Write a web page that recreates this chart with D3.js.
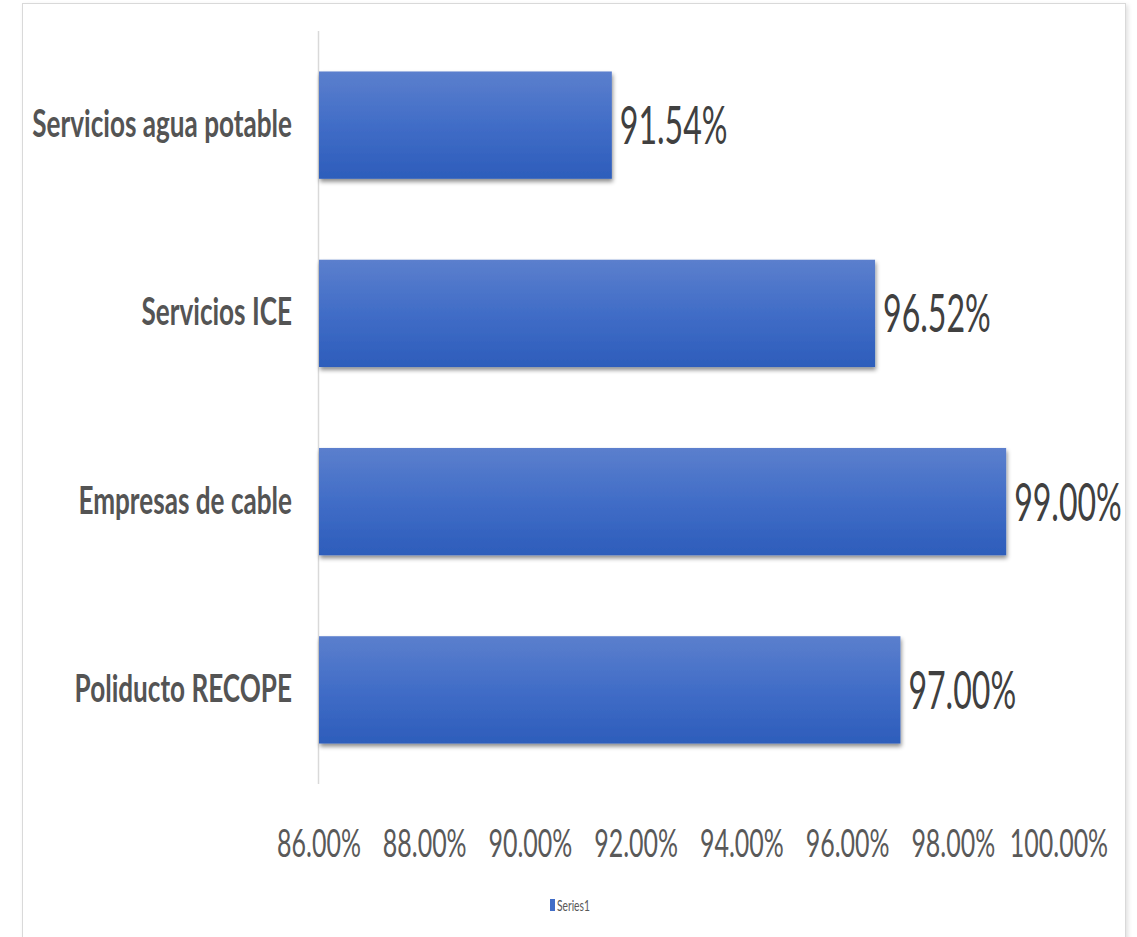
<!DOCTYPE html>
<html>
<head>
<meta charset="utf-8">
<script src="https://cdn.jsdelivr.net/npm/d3@7"></script>
<style>
  body { margin: 0; background: #fff; }
  text { font-family: Lato, "Open Sans", sans-serif; }
</style>
</head>
<body>
<div id="chart"></div>
<script>
var categories = ['Servicios agua potable', 'Servicios ICE', 'Empresas de cable', 'Poliducto RECOPE'];
var values = [91.54, 96.52, 99.00, 97.00];
var tickValues = [86, 88, 90, 92, 94, 96, 98, 100];
var seriesName = 'Series1';

var width = 1137, height = 937;

var svg = d3.select('#chart').append('svg')
  .attr('width', width)
  .attr('height', height);

var defs = svg.append('defs');
var grad = defs.append('linearGradient')
  .attr('id', 'barGrad')
  .attr('x1', 0).attr('y1', 0).attr('x2', 0).attr('y2', 1);
grad.append('stop').attr('offset', '0%').attr('stop-color', '#5b7fcd');
grad.append('stop').attr('offset', '50%').attr('stop-color', '#416dc7');
grad.append('stop').attr('offset', '100%').attr('stop-color', '#2d5dbb');

var shadow = defs.append('filter').attr('id', 'shadow')
  .attr('x', '-5%').attr('y', '-10%').attr('width', '110%').attr('height', '130%');
shadow.append('feDropShadow')
  .attr('dx', 1).attr('dy', 3).attr('stdDeviation', 2)
  .attr('flood-color', '#000').attr('flood-opacity', 0.45);

var frameShadow = defs.append('filter').attr('id', 'frameShadow')
  .attr('x', '-2%').attr('y', '-2%').attr('width', '104%').attr('height', '104%');
frameShadow.append('feDropShadow')
  .attr('dx', 2).attr('dy', 2).attr('stdDeviation', 2)
  .attr('flood-color', '#000').attr('flood-opacity', 0.12);

// chart frame
svg.append('rect')
  .attr('x', 22.5).attr('y', 3.5)
  .attr('width', 1103).attr('height', 980)
  .attr('fill', '#fff')
  .attr('stroke', '#d9d9d9')
  .attr('filter', 'url(#frameShadow)');

var x = d3.scaleLinear().domain([86, 100]).range([319, 1059]);
var y = d3.scaleBand().domain(categories).range([31, 784])
  .paddingInner(0.43).paddingOuter(0.215);

// squeezed text helper (the picture's text is squeezed sideways)
var addText = function(g, tx, ty, str, sx){
  return g.append('text')
    .attr('transform', 'translate(' + tx + ',' + ty + ') scale(' + sx + ',1)')
    .text(str);
};

// vertical category axis line
svg.append('line')
  .attr('x1', x(86) - 0.5).attr('x2', x(86) - 0.5)
  .attr('y1', 31).attr('y2', 784)
  .attr('stroke', '#d9d9d9')
  .attr('stroke-width', 1.5);

// bars
svg.selectAll('.bar')
  .data(values)
  .enter().append('rect')
  .attr('class', 'bar')
  .attr('x', x(86))
  .attr('y', function(d, i){ return y(categories[i]); })
  .attr('width', function(d){ return x(d) - x(86); })
  .attr('height', y.bandwidth())
  .attr('fill', 'url(#barGrad)')
  .attr('filter', 'url(#shadow)');

// category labels
var catG = svg.append('g')
  .attr('font-size', 39)
  .attr('font-weight', 'bold')
  .attr('fill', '#545454')
  .attr('text-anchor', 'end');
categories.forEach(function(c){
  addText(catG, 292, y(c) + y.bandwidth() / 2 + 12, c, 0.67);
});

// value labels
var valG = svg.append('g')
  .attr('font-size', 53)
  .attr('fill', '#404040');
values.forEach(function(v, i){
  addText(valG, x(v) + 8, y(categories[i]) + y.bandwidth() / 2 + 19, v.toFixed(2) + '%', 0.605);
});

// x tick labels
var tickG = svg.append('g')
  .attr('font-size', 39)
  .attr('fill', '#595959')
  .attr('text-anchor', 'middle');
tickValues.forEach(function(t){
  addText(tickG, x(t), 857, t.toFixed(2) + '%', 0.64);
});

// legend
svg.append('rect')
  .attr('x', 550).attr('y', 899)
  .attr('width', 5).attr('height', 12)
  .attr('fill', '#416dc7');
var legG = svg.append('g')
  .attr('font-size', 16)
  .attr('fill', '#595959');
addText(legG, 557, 911, seriesName, 0.64);
</script>
</body>
</html>
